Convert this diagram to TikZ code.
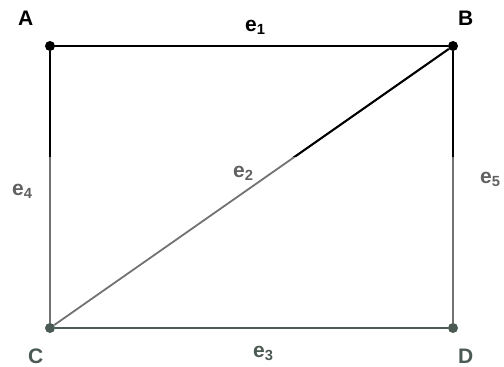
\documentclass[tikz,border=0pt]{standalone}
\usepackage{fontspec}
\setmainfont{Liberation Sans}
\usepackage{tikz}
\usetikzlibrary{positioning}
\definecolor{Tinta}{HTML}{000000}
\definecolor{Gris}{HTML}{727272}
\definecolor{Pizarra}{HTML}{4C5A54}

\begin{document}
\begin{tikzpicture}[
    x=1pt,y=-1pt,
    every node/.style={font=\fontsize{21}{24}\bfseries\selectfont,inner sep=0pt},
    vertex/.style={circle,fill=#1,minimum size=10pt},
    vertex/.default=Tinta,
    lbl/.style={anchor=base west,text=#1},
    lbl/.default=Tinta,
    edge from top/.style={draw=Tinta,line width=2pt},
    edge from low/.style={draw=Gris,line width=1.8pt}
  ]
    \useasboundingbox (0,0) rectangle (504,367);
    % vertices
    \node[vertex] (A) at (50,46) {};
    \node[vertex] (B) at (453,46) {};
    \node[vertex=Pizarra] (C) at (50,328) {};
    \node[vertex=Pizarra] (D) at (453,328) {};
    % edges
    \path (A) edge[edge from low] (C)
          (B) edge[edge from low] (D)
          (B) edge[edge from low] (C);
    \path (C) edge[draw=Pizarra,line width=1.8pt] (D);
    \begin{scope}
      \clip (0,0) rectangle (504,156);
      \path (A) edge[edge from top] (C)
            (B) edge[edge from top] (D)
            (B) edge[edge from top] (C);
    \end{scope}
    \path (A) edge[edge from top] (B);
    % vertex names
    \node[lbl] (nA) at (18,25) {A};
    \node[lbl] (nB) at (458,25) {B};
    \node[lbl=Pizarra] (nC) at (28,363) {C};
    \node[lbl=Pizarra] (nD) at (458,363) {D};
    % edge names
    \node[lbl] (e1) at (245,31) {e\textsubscript{1}};
    \node[lbl=Gris!85!black] (e2) at (233,177) {e\textsubscript{2}};
    \node[lbl=Pizarra] (e3) at (253,357) {e\textsubscript{3}};
    \node[lbl=Gris!85!black] (e4) at (12,195) {e\textsubscript{4}};
    \node[lbl=Gris!85!black] (e5) at (480,183) {e\textsubscript{5}};
  \end{tikzpicture}
\end{document}
